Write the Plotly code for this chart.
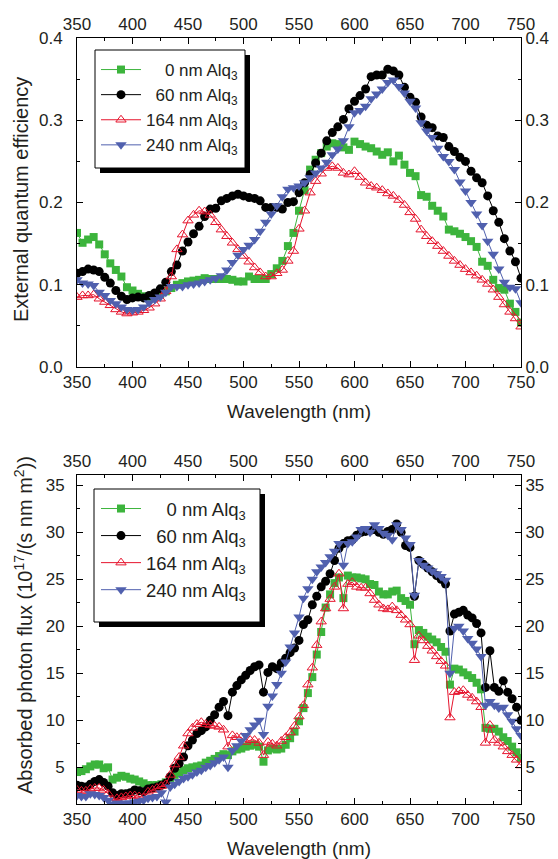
import plotly.graph_objects as go

# ---- data -------------------------------------------------------------
WL_EQE = list(range(350, 755, 5))

EQE_0NM = [
    .163, .151, .155, .158, .149, .137, .126, .118, .110, .097,
    .093, .089, .086, .085, .088, .089, .092, .096, .100, .102,
    .104, .105, .106, .108, .107, .107, .107, .107, .106, .104,
    .104, .110, .107, .107, .107, .113, .120, .129, .147, .163,
    .190, .215, .240, .252, .260, .268, .272, .271, .267, .264,
    .274, .271, .268, .266, .262, .258, .261, .250, .257, .246,
    .236, .232, .209, .207, .196, .190, .183, .167, .165, .162,
    .158, .153, .146, .128, .123, .106, .096, .094, .077, .067,
    .054,
]
EQE_60NM = [
    .114, .116, .119, .118, .116, .109, .102, .093, .086, .082,
    .084, .085, .084, .087, .090, .095, .103, .116, .124, .141,
    .152, .162, .171, .183, .192, .193, .202, .205, .208, .210,
    .208, .206, .205, .202, .194, .194, .194, .192, .200, .201,
    .212, .224, .234, .248, .260, .275, .285, .292, .301, .314,
    .323, .330, .338, .353, .355, .355, .362, .360, .355, .340,
    .328, .322, .304, .294, .291, .281, .279, .268, .262, .255,
    .250, .238, .230, .224, .208, .190, .176, .156, .141, .128,
    .108,
]
EQE_164NM = [
    .085, .087, .087, .088, .083, .079, .075, .070, .067, .065,
    .066, .067, .069, .072, .077, .083, .092, .110, .143, .161,
    .178, .185, .190, .189, .185, .176, .167, .159, .151, .143,
    .135, .128, .121, .115, .110, .110, .114, .118, .129, .141,
    .168, .190, .212, .226, .235, .242, .244, .242, .236, .234,
    .238, .231, .224, .220, .218, .215, .211, .208, .203, .197,
    .188, .180, .167, .159, .153, .147, .141, .135, .129, .124,
    .119, .115, .111, .106, .101, .094, .085, .076, .067, .059,
    .049,
]
EQE_240NM = [
    .106, .102, .101, .099, .091, .087, .081, .077, .073, .070,
    .069, .070, .073, .078, .082, .085, .091, .098, .098, .098,
    .100, .101, .102, .104, .106, .108, .111, .118, .127, .136,
    .143, .148, .155, .165, .176, .186, .196, .207, .216, .218,
    .220, .224, .230, .236, .242, .249, .258, .265, .275, .292,
    .309, .312, .317, .326, .332, .338, .346, .349, .341, .333,
    .323, .315, .297, .287, .279, .266, .256, .250, .240, .225,
    .214, .200, .186, .172, .153, .137, .119, .103, .097, .095,
    .078,
]

WL_FLUX = list(range(350, 754, 4))

FLUX_0NM = [
    4.5, 4.6, 4.8, 5.1, 5.3, 5.3, 4.9, 5.0, 3.7, 3.9,
    4.1, 4.0, 3.8, 3.7, 3.5, 3.3, 3.1, 3.1, 3.1, 3.2,
    3.4, 3.7, 4.2, 4.4, 4.7, 4.9, 5.0, 5.1, 5.2, 5.5,
    5.7, 5.9, 6.2, 6.4, 6.3, 6.7, 6.9, 7.0, 7.2, 7.3,
    7.4, 7.2, 5.6, 6.8, 7.0, 6.9, 7.0, 7.4, 8.1, 8.8,
    9.9, 11.3, 12.9, 14.6, 17.0, 19.4, 22.0, 23.4, 24.6, 25.2,
    23.0, 25.4, 25.2, 25.2, 25.1, 25.0, 24.5, 24.4, 23.7, 23.4,
    23.4, 23.7, 23.8, 23.0, 22.7, 22.3, 18.1, 19.6, 19.3, 18.9,
    18.6, 18.3, 17.8, 17.3, 13.8, 15.5, 15.4, 15.1, 14.8, 14.5,
    14.0, 13.3, 9.2, 9.1, 9.1, 8.8, 8.2, 7.8, 7.2, 6.6,
    6.0,
]
FLUX_60NM = [
    3.1, 3.0, 2.9, 3.2, 3.5, 3.7, 3.4, 3.0, 2.3, 2.0,
    2.2, 2.2, 2.3, 2.6, 2.5, 2.4, 2.7, 2.8, 2.9, 3.1,
    3.3, 4.0, 4.9, 5.4, 6.1, 7.3, 7.9, 8.6, 8.9, 9.3,
    10.0, 10.6, 11.4, 12.0, 10.5, 13.0, 13.7, 14.3, 14.8, 15.3,
    15.7, 15.9, 13.0, 15.1, 15.7, 15.5, 16.1, 16.6, 17.2, 17.7,
    18.5, 20.2, 20.7, 22.3, 23.2, 24.2, 24.8, 25.6, 27.0, 28.3,
    28.8, 29.1, 29.2, 29.7, 30.0, 30.1, 30.2, 30.3, 30.0, 29.8,
    30.1, 30.3, 30.9, 30.0, 28.6, 28.4, 23.2, 27.0, 26.6, 26.2,
    25.8, 25.4, 25.0, 24.5, 19.5, 21.3, 21.5, 21.7, 21.2, 20.9,
    20.3, 19.3, 13.5, 17.4, 13.5, 13.1, 14.2, 13.0, 12.3, 11.4,
    10.0,
]
FLUX_164NM = [
    2.6, 2.5, 2.5, 2.7, 2.8, 2.8, 2.6, 2.2, 1.5, 1.7,
    1.8, 1.9, 2.0, 2.0, 1.9, 1.8, 2.4, 2.6, 2.8, 3.0,
    3.2, 4.2, 5.3, 6.1, 7.3, 8.6, 9.2, 9.6, 9.8, 9.6,
    9.5, 9.4, 9.3, 9.0, 7.2, 8.4, 8.2, 8.2, 7.7, 7.9,
    7.9, 7.6, 6.3, 7.7, 7.5, 7.3, 7.8, 8.2, 8.7, 9.4,
    10.4, 11.6, 13.8, 15.6, 18.0, 20.5, 21.9, 22.9, 24.2, 25.6,
    21.9, 24.5, 24.7, 24.2, 24.1, 24.1, 23.5, 22.8, 22.3, 21.9,
    21.8, 22.1, 21.7, 21.2, 20.7, 20.2, 16.4, 19.0, 18.5, 17.9,
    17.4, 16.8, 16.3, 15.8, 10.3, 13.0, 13.1, 13.2, 12.7, 12.4,
    12.0, 11.4, 7.6, 9.5, 7.9, 7.6, 7.2, 6.7, 6.3, 5.8,
    5.2,
]
FLUX_240NM = [
    2.0, 1.9, 1.9, 2.2, 2.1, 2.0, 1.8, 1.5, 1.1, 1.2,
    1.1, 1.2, 1.2, 1.3, 1.4, 1.5, 1.7, 1.8, 1.9, 2.3,
    1.3, 2.9, 3.2, 3.5, 3.8, 4.0, 4.2, 4.5, 4.7, 5.0,
    5.2, 5.5, 5.8, 6.1, 5.0, 6.8, 7.3, 7.8, 8.4, 9.0,
    9.5, 10.0, 8.5, 11.5, 12.6, 13.8, 15.0, 16.2, 17.8, 19.3,
    21.0, 23.0, 24.0, 25.0, 25.8, 26.3, 26.8, 27.4, 28.0, 28.8,
    26.5, 28.8, 29.0, 29.5, 30.3, 30.4, 30.0, 30.8, 30.4, 29.9,
    29.7, 29.2, 30.8, 30.3, 29.4, 28.7, 23.3, 27.0, 26.5, 26.2,
    25.9, 25.6, 25.3, 24.9, 15.0, 19.8, 20.0, 19.5, 18.7, 18.2,
    17.6, 16.8, 11.6, 12.0, 11.6, 11.3, 11.4, 10.6, 9.9, 9.1,
    8.4,
]

NAMES = [
    "\u2007\u20070 nm Alq<sub>3</sub>",
    "\u200760 nm Alq<sub>3</sub>",
    "164 nm Alq<sub>3</sub>",
    "240 nm Alq<sub>3</sub>",
]
X_TICKS = [350, 400, 450, 500, 550, 600, 650, 700, 750]

# ---- styling ----------------------------------------------------------
GREEN = "#3cb43c"
BLACK = "#000000"
RED = "#e6142d"
BLUE = "#5060ae"
TEXT = "#231f20"
FONT = "Liberation Sans, Arial, sans-serif"

STYLES = [
    dict(color=GREEN, symbol="square", size=8, open=False),
    dict(color=BLACK, symbol="circle", size=9, open=False),
    dict(color=RED, symbol="triangle-up-open", size=9, open=True),
    dict(color=BLUE, symbol="triangle-down", size=10, open=False),
]

# page is shown with the browser's 8px body margin, so page px = figure px + 8
W, H = 558, 859
OFF = 8
L, R, T, B = 69, 45, 30, 63


def px_x(px):
    return (px - OFF - L) / (W - L - R)


def px_y(py):
    return (H - B - (py - OFF)) / (H - T - B)


def marker(st):
    if st["open"]:
        return dict(symbol=st["symbol"], size=st["size"], color=st["color"],
                    line=dict(color=st["color"], width=1))
    return dict(symbol=st["symbol"], size=st["size"], color=st["color"],
                line=dict(width=0))


fig = go.Figure()

for ys, st, name in zip([EQE_0NM, EQE_60NM, EQE_164NM, EQE_240NM], STYLES, NAMES):
    fig.add_trace(go.Scatter(
        x=WL_EQE, y=ys, mode="lines+markers", name=name,
        line=dict(color=st["color"], width=1), marker=marker(st),
        xaxis="x", yaxis="y", legend="legend",
    ))

for ys, st, name in zip([FLUX_0NM, FLUX_60NM, FLUX_164NM, FLUX_240NM], STYLES, NAMES):
    fig.add_trace(go.Scatter(
        x=WL_FLUX, y=ys, mode="lines+markers", name=name,
        line=dict(color=st["color"], width=1), marker=marker(st),
        xaxis="x2", yaxis="y2", legend="legend2",
    ))

# dummy traces so the mirrored (top / right) label axes get drawn
for xa, ya in [("x3", "y"), ("x", "y3"), ("x4", "y2"), ("x2", "y4")]:
    fig.add_trace(go.Scatter(x=[None], y=[None], xaxis=xa, yaxis=ya,
                             showlegend=False, hoverinfo="skip"))

top_dom = [px_y(367), 1.0]
bot_dom = [0.0, px_y(475)]

base = dict(
    showline=True, linecolor="black", linewidth=1,
    ticks="inside", ticklen=6, tickwidth=1, tickcolor="black",
    showgrid=False, zeroline=False, automargin=False,
    tickfont=dict(size=17, color=TEXT, family=FONT),
)


def xax(**kw):
    d = dict(base, range=[350, 750], tickvals=X_TICKS,
             minor=dict(ticks="inside", ticklen=3, tickcolor="black", dtick=25, tick0=350))
    d.update(kw)
    return d


def yax(dtick, minor, rng, **kw):
    d = dict(base, range=rng, dtick=dtick, tick0=0,
             minor=dict(ticks="inside", ticklen=3, tickcolor="black", dtick=minor, tick0=0))
    d.update(kw)
    return d


title_font = dict(size=19, color=TEXT, family=FONT)
ytitle_font = dict(size=20, color=TEXT, family=FONT)


def legend_box(left, top, size):
    return dict(x=px_x(left), y=px_y(top), xanchor="left", yanchor="top",
                bgcolor="rgba(0,0,0,0)", borderwidth=0, itemwidth=40,
                font=dict(size=size, color=TEXT, family=FONT), tracegroupgap=0)


def box_shapes(x0, y0, x1, y1, off=5):
    return [
        dict(type="rect", xref="paper", yref="paper", layer="above",
             x0=px_x(x0 + off), x1=px_x(x1 + off), y0=px_y(y0 + off), y1=px_y(y1 + off),
             fillcolor="black", line=dict(width=0)),
        dict(type="rect", xref="paper", yref="paper", layer="above",
             x0=px_x(x0), x1=px_x(x1), y0=px_y(y0), y1=px_y(y1),
             fillcolor="white", line=dict(color="black", width=1)),
    ]


def ytitle(text, x, y):
    return dict(text=text, xref="paper", yref="paper", x=px_x(x), y=px_y(y),
                xanchor="center", yanchor="middle", textangle=-90,
                showarrow=False, font=ytitle_font)


fig.update_layout(
    template="none",
    width=W, height=H,
    margin=dict(l=L, r=R, t=T, b=B),
    paper_bgcolor="white", plot_bgcolor="white",
    font=dict(family=FONT, color=TEXT),
    xaxis=xax(anchor="y", domain=[0, 1],
              title=dict(text="Wavelength (nm)", font=title_font, standoff=13)),
    yaxis=yax(0.1, 0.05, [0, 0.4], anchor="x", domain=top_dom, tickformat=".1f",
              ticklabelstandoff=10),
    xaxis3=xax(overlaying="x", side="top", anchor="y"),
    yaxis3=yax(0.1, 0.05, [0, 0.4], overlaying="y", side="right", anchor="x",
               tickformat=".1f", ticklabelstandoff=0),
    xaxis2=xax(anchor="y2", domain=[0, 1],
               title=dict(text="Wavelength (nm)", font=title_font, standoff=13)),
    yaxis2=yax(5, 2.5, [1.1, 36.1], anchor="x2", domain=bot_dom, ticklabelstandoff=8),
    xaxis4=xax(overlaying="x2", side="top", anchor="y2"),
    yaxis4=yax(5, 2.5, [1.1, 36.1], overlaying="y2", side="right", anchor="x2",
               ticklabelstandoff=0),
    legend=legend_box(96, 52, 17),
    legend2=legend_box(96, 490, 18.5),
    showlegend=True,
    shapes=box_shapes(95, 50, 245, 168) + box_shapes(94, 489, 260, 622),
    annotations=[
        ytitle("External quantum efficiency", 21, 200),
        ytitle("Absorbed photon flux (10<sup>17</sup>/(s nm m<sup>2</sup>))", 23, 625),
    ],
)

fig.write_html("out.html")
